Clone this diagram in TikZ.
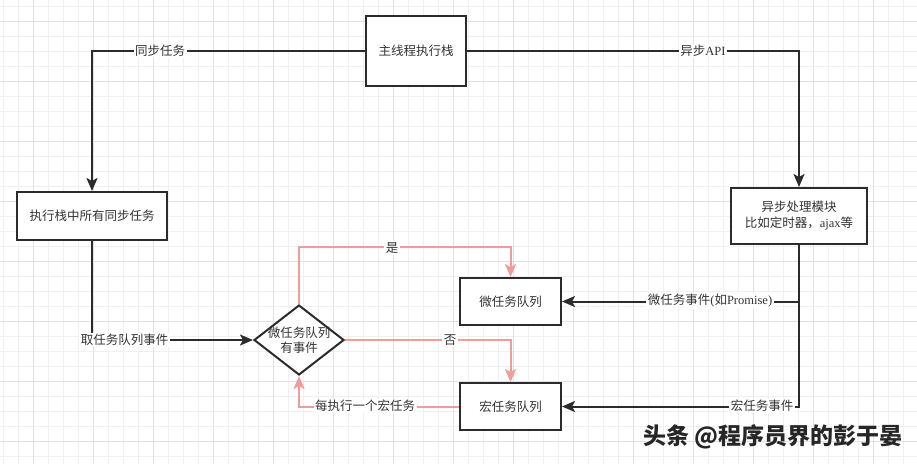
\documentclass[tikz,border=0pt]{standalone}
\usepackage{fontspec}
\setmainfont{Liberation Serif}
\newfontfamily\cjk{Noto Sans CJK SC}
\usetikzlibrary{arrows.meta,shapes.geometric}
\definecolor{txt}{HTML}{333333}
\definecolor{ln}{HTML}{2B2B2B}
\definecolor{pk}{HTML}{F19C99}
\definecolor{gmin}{HTML}{F0F0F0}
\definecolor{gmaj}{HTML}{E2E2E2}
\tikzset{
  box/.style={draw=ln, line width=2pt, fill=white, text=txt, align=center,
    font=\cjk\fontsize{12.5}{16}\selectfont, inner sep=0pt},
  tip/.style={-{Stealth[length=13pt,width=11pt,inset=3pt]}},
  dk/.style={draw=ln, line width=2pt, tip},
  pkl/.style={draw=pk, line width=2pt, tip},
  lbl/.style={fill=white, text=txt, inner sep=1.5pt, font=\cjk\fontsize{12.5}{15}\selectfont},
}
\begin{document}
\begin{tikzpicture}[x=1pt,y=-1pt]
\useasboundingbox (0,0) rectangle (917,464);
\fill[white] (0,0) rectangle (917,464);
% grid
\foreach \x in {3.3,18.3,...,917} \draw[gmin,line width=0.8pt] (\x,0) -- (\x,464);
\foreach \y in {6.7,21.7,...,464} \draw[gmin,line width=0.8pt] (0,\y) -- (917,\y);
\foreach \x in {33.3,93.3,...,917} \draw[gmaj,line width=0.9pt] (\x,0) -- (\x,464);
\foreach \y in {21.7,81.7,...,464} \draw[gmaj,line width=0.9pt] (0,\y) -- (917,\y);

% nodes
\node[box, minimum width=100pt, minimum height=70pt] (main) at (416,51) {主线程执行栈};
\node[box, minimum width=150pt, minimum height=48pt] (sync) at (92,216) {执行栈中所有同步任务};
\node[box, minimum width=136pt, minimum height=56pt] (async) at (799,216)
  {异步处理模块\\比如定时器，{\rmfamily ajax}等};
\node[box, minimum width=101pt, minimum height=47pt] (micro) at (510.5,301.5) {微任务队列};
\node[box, minimum width=101pt, minimum height=47pt] (macro) at (510.5,406.5) {宏任务队列};
\node[draw=ln, line width=2pt, fill=white, diamond, minimum width=90pt, minimum height=70pt,
  inner sep=0pt, label={[text=txt, align=center, font=\cjk\fontsize{12.5}{15}\selectfont]center:微任务队列\\有事件}] (dia) at (299,340) {};

% black connectors
\draw[dk] (main.west) -| (sync.north);
\draw[dk] (main.east) -| (async.north);
\draw[dk] (sync.south) |- (dia.west);
\draw[dk] (async.south) |- (micro.east);
\draw[dk] (async.south) |- (macro.east);

% pink connectors
\draw[pkl] (dia.north) -- ++(0,-57) -| (micro.north);
\draw[pkl] (dia.east) -| (macro.north);
\draw[pkl] (macro.west) -| (dia.south);

% labels
\node[lbl] (l1) at (160,51) {同步任务};
\node[lbl] (l2) at (703,51) {异步{\rmfamily API}};
\node[lbl] (l3) at (124.5,340) {取任务队列事件};
\node[lbl] (l4) at (710,301) {微任务事件{\rmfamily (}如{\rmfamily Promise)}};
\node[lbl] (l5) at (762,406) {宏任务事件};
\node[lbl] (l6) at (392,248) {是};
\node[lbl] (l7) at (450,340) {否};
\node[lbl] (l8) at (365,406) {每执行一个宏任务};

% watermark
\node[text=black!85, font=\cjk\bfseries\fontsize{23}{25}\selectfont, inner sep=0pt] (wm) at (773,437) {头条 @程序员界的彭于晏};
\end{tikzpicture}
\end{document}
